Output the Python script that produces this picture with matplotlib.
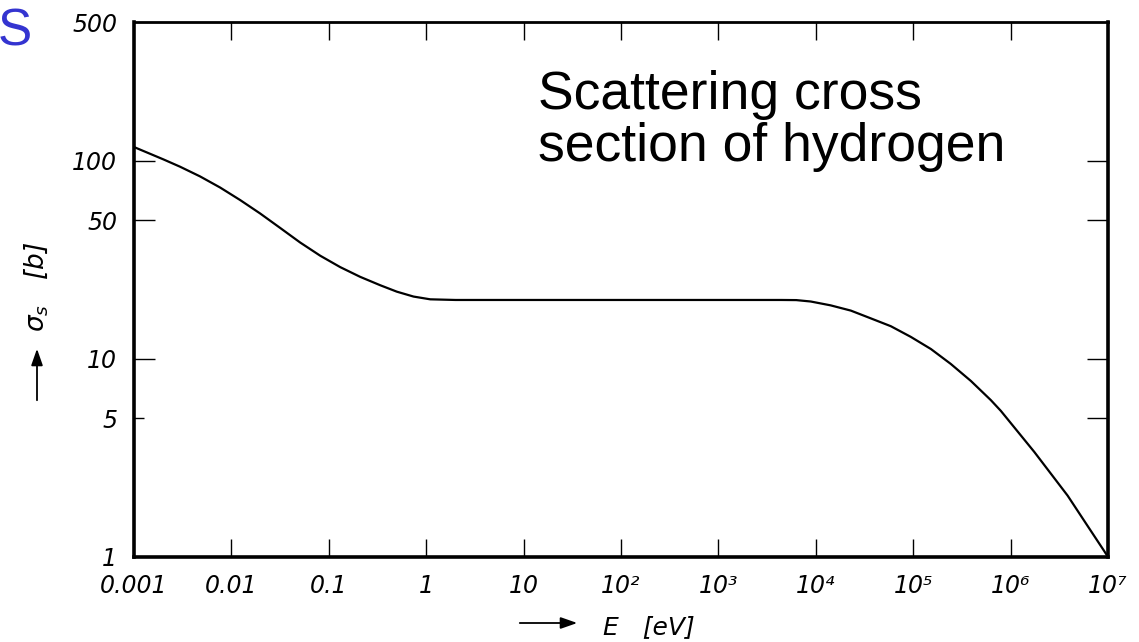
import numpy as np
import matplotlib.pyplot as plt
from matplotlib.patches import FancyArrowPatch
from matplotlib.ticker import FixedLocator, FixedFormatter, NullLocator

# scattering cross section of hydrogen vs neutron energy
energy_ev = [1e-3, 2.0e-3, 2.97e-3, 4.76e-3, 7.66e-3, 0.0123, 0.0197, 0.0317,
             0.0508, 0.0817, 0.131, 0.210, 0.337, 0.5, 0.741, 1.1, 2.0, 10,
             100, 1000, 4400, 6300, 8870, 1.42e4, 2.29e4, 3.66e4, 5.89e4,
             9.44e4, 1.52e5, 2.43e5, 3.91e5, 6.28e5, 7.94e5, 1.75e6, 3.85e6,
             6.03e6, 9.16e6, 1e7]
sigma_b = [117, 101.4, 93.1, 83.2, 73.1, 63.2, 54.1, 45.7,
           38.6, 33.1, 29.0, 25.9, 23.5, 21.8, 20.6, 19.95, 19.8, 19.8,
           19.8, 19.8, 19.8, 19.77, 19.45, 18.6, 17.5, 16.0, 14.6,
           12.9, 11.2, 9.42, 7.73, 6.18, 5.46, 3.39, 2.04,
           1.46, 1.07, 1.0]

x_ticks = [1e-3, 1e-2, 1e-1, 1, 10, 1e2, 1e3, 1e4, 1e5, 1e6, 1e7]
x_labels = ["0.001", "0.01", "0.1", "1", "10", "10²", "10³", "10⁴", "10⁵", "10⁶", "10⁷"]
y_ticks = [1, 5, 10, 50, 100, 500]
y_labels = ["1", "5", "10", "50", "100", "500"]

W, H = 1139, 642
fig = plt.figure(figsize=(W / 100, H / 100), dpi=100)
ax = fig.add_axes([134 / W, 1 - 557 / H, 974 / W, 535 / H])

ax.plot(energy_ev, sigma_b, color="black", lw=1.6, solid_capstyle="round",
        solid_joinstyle="round")

ax.set_xscale("log")
ax.set_yscale("log")
ax.set_xlim(1e-3, 1e7)
ax.set_ylim(1, 500)

ax.xaxis.set_major_locator(FixedLocator(x_ticks))
ax.xaxis.set_major_formatter(FixedFormatter(x_labels))
ax.yaxis.set_major_locator(FixedLocator(y_ticks))
ax.yaxis.set_major_formatter(FixedFormatter(y_labels))
ax.xaxis.set_minor_locator(NullLocator())
ax.yaxis.set_minor_locator(NullLocator())

ax.tick_params(axis="x", which="major", direction="in", top=True, length=13,
               width=1.0, pad=12, labelsize=17)
ax.tick_params(axis="y", which="major", direction="in", right=True, length=15,
               width=1.0, pad=12, labelsize=17)
for lbl in ax.get_xticklabels() + ax.get_yticklabels():
    lbl.set_fontstyle("italic")

# end ticks sit on the frame, hide them
for t in ax.yaxis.get_major_ticks():
    if t.get_loc() in (1, 500):
        t.tick1line.set_visible(False)
        t.tick2line.set_visible(False)
    if t.get_loc() == 5:
        t.tick1line.set_markersize(7)
for t in ax.xaxis.get_major_ticks():
    if t.get_loc() in (1e-3, 1e7):
        t.tick1line.set_visible(False)
        t.tick2line.set_visible(False)

for side in ["left", "right", "bottom"]:
    ax.spines[side].set_linewidth(2.6)
ax.spines["top"].set_linewidth(2.0)

# axis labels with arrows
fig.text(603 / W, 1 - 627 / H, "E   [eV]", fontsize=18, fontstyle="italic",
         ha="left", va="center")
fig.patches.append(FancyArrowPatch(
    (517 / W, 1 - 623 / H), (580 / W, 1 - 623 / H), transform=fig.transFigure,
    arrowstyle="-|>,head_length=10,head_width=3.5", lw=1.3, color="black"))

fig.text(36 / W, 1 - 287 / H, "σ$_s$   [b]", fontsize=19, fontstyle="italic",
         rotation=90, ha="center", va="center")
fig.patches.append(FancyArrowPatch(
    (37 / W, 1 - 403 / H), (37 / W, 1 - 346 / H), transform=fig.transFigure,
    arrowstyle="-|>,head_length=10,head_width=3.5", lw=1.3, color="black"))

fig.text(538 / W, 1 - 70 / H, "Scattering cross\nsection of hydrogen",
         fontsize=38.5, family="Liberation Sans", ha="left", va="top",
         linespacing=1.05)
fig.text(-2 / W, 1 - 8 / H, "S", fontsize=37, family="Liberation Sans",
         color="#3434d0", ha="left", va="top")

fig.savefig("out.png", dpi=100)
